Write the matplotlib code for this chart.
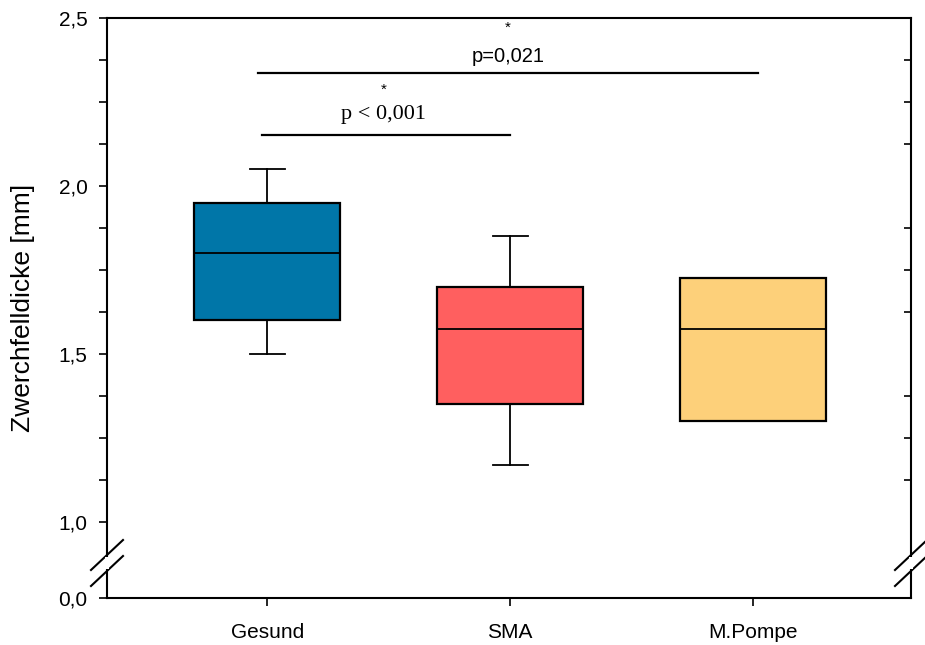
import numpy as np
import matplotlib
matplotlib.use("Agg")
import matplotlib.pyplot as plt
from matplotlib.lines import Line2D
from matplotlib.patches import Rectangle

plt.rcParams['font.family'] = ['Liberation Sans', 'DejaVu Sans']

# data
groups = ['Gesund', 'SMA', 'M.Pompe']
q1 = [1.60, 1.35, 1.30]
median = [1.80, 1.575, 1.575]
q3 = [1.95, 1.70, 1.725]
whislo = [1.50, 1.17, 1.30]
whishi = [2.05, 1.85, 1.725]
colors = ['#0076A8', '#FF5F5F', '#FDD07A']

# significance brackets
sig_x0 = [0.98, 0.96]
sig_x1 = [2.00, 3.02]
sig_y = [2.152, 2.336]
sig_text = ['p < 0,001', 'p=0,021']

y_major = [1.0, 1.5, 2.0, 2.5]
y_minor = [1.125, 1.25, 1.375, 1.625, 1.75, 1.875, 2.125, 2.25, 2.375]

fig = plt.figure(figsize=(9.25, 6.45), dpi=100)
L, W = 107 / 925, (911 - 107) / 925
ax = fig.add_axes([L, 1 - 563 / 645, W, (563 - 18) / 645])
axb = fig.add_axes([L, 1 - 598 / 645, W, (598 - 563) / 645])

pos = [1, 2, 3]
stats = [dict(med=m, q1=a, q3=b, whislo=lo, whishi=hi, label=g)
         for g, a, m, b, lo, hi in zip(groups, q1, median, q3, whislo, whishi)]
bp = ax.bxp(stats, positions=pos, widths=0.6, capwidths=0.145, showfliers=False,
            patch_artist=True,
            boxprops=dict(linewidth=1.6, edgecolor='black'),
            medianprops=dict(color='black', linewidth=1.3),
            whiskerprops=dict(color='black', linewidth=1.3),
            capprops=dict(color='black', linewidth=1.3))
for patch, c in zip(bp['boxes'], colors):
    patch.set_facecolor(c)

ax.set_xlim(0.34, 3.65)
axb.set_xlim(0.34, 3.65)
ax.set_ylim(2.5 - (563 - 18) / 336, 2.5)
axb.set_ylim(0, (598 - 563) / 336)

# spines
for a in (ax, axb):
    for s in a.spines.values():
        s.set_linewidth(1.5)
ax.spines['bottom'].set_visible(False)
axb.spines['top'].set_visible(False)

# upper axis ticks
ax.set_yticks(y_major)
ax.set_yticklabels([f'{v:.1f}'.replace('.', ',') for v in y_major], fontsize=15)
ax.set_yticks(y_minor, minor=True)
ax.tick_params(axis='y', which='both', direction='out', length=6, width=1.2, pad=8)
ax.tick_params(axis='x', bottom=False, labelbottom=False)

# right side: inward minor ticks only
tw = ax.twinx()
tw.set_ylim(ax.get_ylim())
tw.set_yticks(y_minor)
tw.tick_params(axis='y', direction='in', length=5, width=1.2, labelright=False)
for s in tw.spines.values():
    s.set_visible(False)

# lower axis
axb.set_yticks([0.0])
axb.set_yticklabels(['0,0'], fontsize=15)
axb.tick_params(axis='y', direction='out', length=6, width=1.2, pad=8)
axb.set_xticks(pos)
axb.set_xticklabels(groups, fontsize=15)
axb.tick_params(axis='x', direction='out', length=6, width=1.2, pad=12)

# significance lines
for i, (x0, x1, y, t) in enumerate(zip(sig_x0, sig_x1, sig_y, sig_text)):
    ax.plot([x0, x1], [y, y], color='black', linewidth=1.6, clip_on=False)
    xc = 1.48 if i == 0 else 1.99
    if i == 0:
        ax.text(xc, y + 0.06, t, ha='center', va='center', fontsize=16,
                family='Liberation Serif')
    else:
        ax.text(xc, y + 0.05, t, ha='center', va='center', fontsize=14.5)
    ax.text(xc, y + 0.135, '*', ha='center', va='center', fontsize=11)

# axis break marks
def brk(xp):
    for yc in (555, 571):
        x0, x1 = (xp - 16) / 925, (xp + 16) / 925
        y0, y1 = 1 - (yc + 15) / 645, 1 - (yc - 15) / 645
        fig.add_artist(Line2D([x0, x1], [y0, y1], color='black', linewidth=1.5))
    fig.add_artist(Rectangle((xp / 925 - 2 / 925, 1 - 569 / 645), 4 / 925, 12 / 645,
                             facecolor='white', edgecolor='none', zorder=2))

brk(107)
brk(911)

fig.text(23 / 925, 1 - 308 / 645, 'Zwerchfelldicke [mm]', rotation=90,
         ha='center', va='center', fontsize=19)

fig.savefig('out.png', dpi=100)
